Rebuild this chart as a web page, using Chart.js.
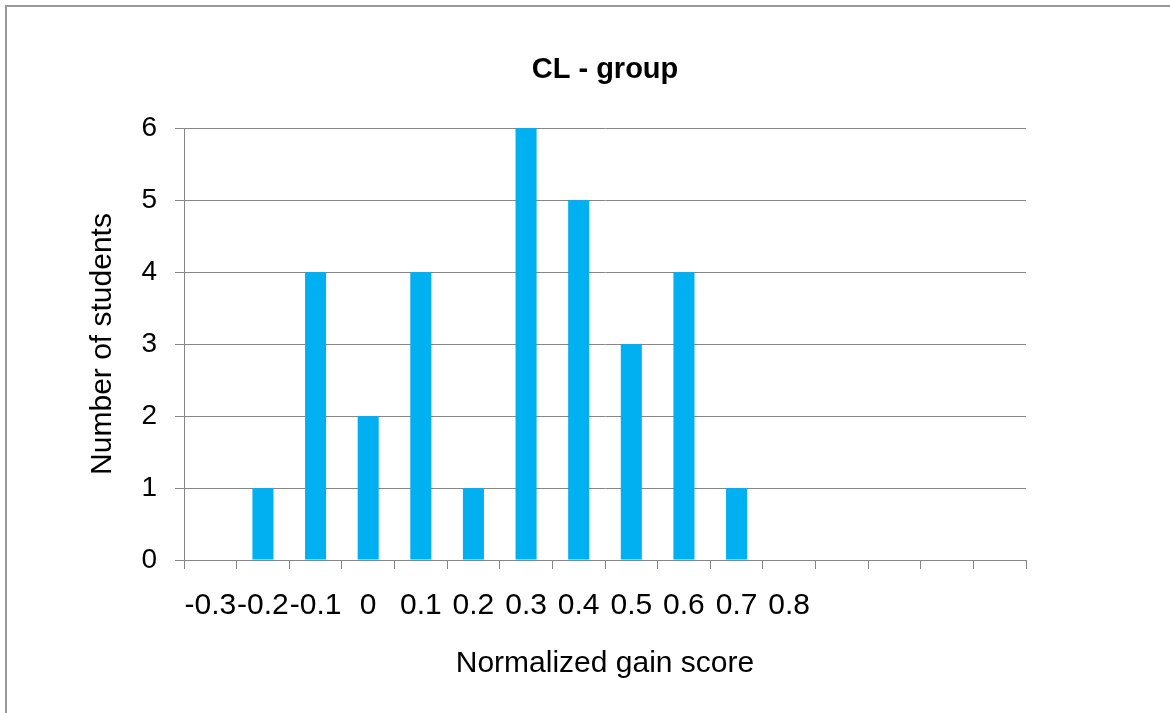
<!DOCTYPE html>
<html>
<head>
<meta charset="utf-8">
<script src="https://cdn.jsdelivr.net/npm/chart.js@4.4.1/dist/chart.umd.min.js"></script>
<style>
  html, body { margin: 0; padding: 0; background: #fff; }
  #wrap { position: relative; width: 1170px; height: 713px; overflow: hidden; }
  #frame { position: absolute; left: 5px; top: 5px; width: 1200px; height: 760px;
           border-top: 2px solid #999; border-left: 2px solid #999; pointer-events: none; }
</style>
</head>
<body>
<div id="wrap">
  <canvas id="graf" width="1170" height="713"></canvas>
  <div id="frame"></div>
</div>
<script>
// categorias do eixo x (as 4 ultimas ficam sem rotulo, como no original)
const categorias = ['-0.3', '-0.2', '-0.1', '0', '0.1', '0.2', '0.3', '0.4', '0.5', '0.6', '0.7', '0.8', '', '', '', ''];
// numero de alunos por categoria
const alunos = [0, 1, 4, 2, 4, 1, 6, 5, 3, 4, 1, 0, 0, 0, 0, 0];
const ticksY = [0, 1, 2, 3, 4, 5, 6];

const cinza = '#868686';
const fonte = 'Liberation Sans, Arial, sans-serif';

// Titulo centralizado sobre a area do grafico (como no Excel)
const tituloPlugin = {
  id: 'tituloCentro',
  afterDraw(chart, args, options) {
    const { ctx, chartArea: { left, right } } = chart;
    ctx.save();
    ctx.font = 'bold 29px ' + fonte;
    ctx.fillStyle = '#000';
    ctx.textAlign = 'center';
    ctx.textBaseline = 'middle';
    ctx.fillText(options.text, (left + right) / 2, 70);
    ctx.restore();
  }
};

Chart.register(tituloPlugin);

new Chart(document.getElementById('graf'), {
  type: 'bar',
  data: {
    labels: categorias,
    datasets: [{
      label: 'Number of students',
      data: alunos,
      backgroundColor: '#00B0F0',
      borderWidth: 0,
      barPercentage: 0.4,
      categoryPercentage: 1
    }]
  },
  options: {
    responsive: false,
    animation: false,
    devicePixelRatio: 1,
    layout: { padding: { left: 0, right: 144, top: 128, bottom: 0 } },
    plugins: {
      legend: { display: false },
      tooltip: { enabled: false },
      title: { display: false },
      tituloCentro: { text: 'CL - group' }
    },
    scales: {
      x: {
        grid: {
          offset: true,
          drawOnChartArea: false,
          drawTicks: true,
          tickLength: 9,
          color: cinza
        },
        border: { color: cinza, width: 1 },
        ticks: {
          color: '#000',
          font: { family: fonte, size: 30 },
          padding: 19,
          maxRotation: 0,
          autoSkip: false
        },
        title: {
          display: true,
          text: 'Normalized gain score',
          color: '#000',
          font: { family: fonte, size: 30 },
          padding: { top: 22, bottom: 31 }
        },
        afterFit(scale) { scale.height = 153; }
      },
      y: {
        min: 0,
        max: 6,
        afterBuildTicks(scale) { scale.ticks = ticksY.map(v => ({ value: v })); },
        grid: { color: cinza, tickLength: 9, drawTicks: true },
        border: { color: cinza, width: 1 },
        ticks: {
          color: '#000',
          font: { family: fonte, size: 28 },
          padding: 18
        },
        title: {
          display: true,
          text: 'Number of students',
          color: '#000',
          font: { family: fonte, size: 30 },
          padding: { top: 85, bottom: 0 }
        },
        afterFit(scale) { scale.width = 184; }
      }
    }
  }
});
</script>
</body>
</html>
